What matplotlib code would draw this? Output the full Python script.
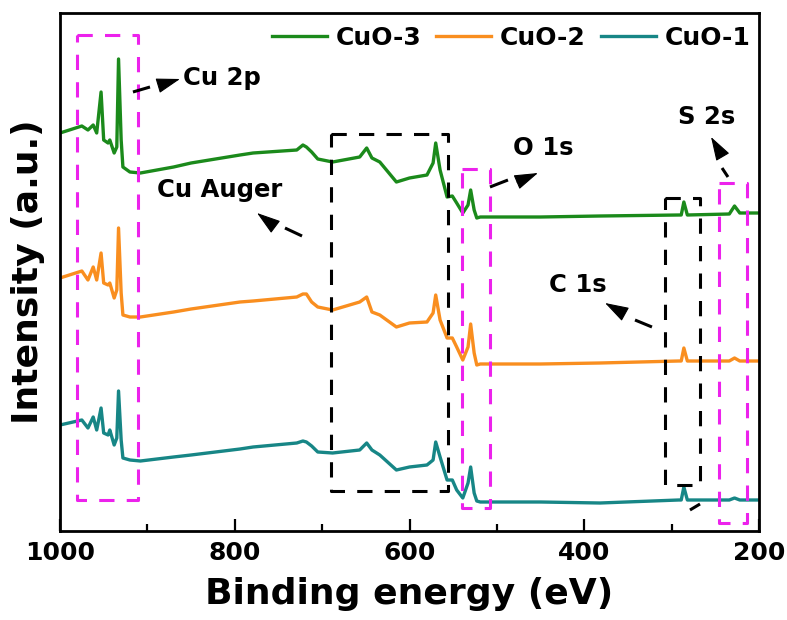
import matplotlib
matplotlib.use("Agg")
import matplotlib.pyplot as plt
import numpy as np

# ---------------- data ----------------
energy = [1000, 975, 968, 962, 958, 953, 950, 945, 943, 938, 935, 933, 930, 928,
          920, 908, 870, 850, 794, 779, 729, 722, 718, 712, 705, 688, 657, 649,
          643, 634, 615, 600, 580, 573, 570, 565, 557, 551, 546, 539, 533, 530,
          526, 523, 519, 450, 382, 292, 289, 286, 282, 234, 228, 222, 200]

cuo3 = [398, 405, 401, 406, 398, 439, 391, 388, 391, 378, 384, 472, 391, 364,
        359, 358, 364, 368, 376, 378, 381, 386, 384, 379, 372, 369, 374, 383,
        373, 369, 349, 353, 356, 368, 388, 361, 334, 335, 328, 318, 326, 341,
        321, 313, 314, 314, 315, 316, 316, 329, 316, 317, 325, 318, 318]

cuo2 = [253, 260, 251, 264, 251, 278, 248, 246, 248, 233, 241, 303, 238, 216,
        214, 214, 219, 222, 229, 230, 234, 237, 237, 229, 224, 221, 229, 234,
        219, 216, 204, 208, 209, 218, 236, 211, 193, 193, 184, 171, 184, 207,
        178, 166, 167, 167, 168, 170, 170, 183, 170, 170, 173, 170, 170]

cuo1 = [106, 111, 103, 114, 101, 123, 98, 96, 101, 86, 93, 140, 91, 73,
        71, 70, 74, 76, 82, 84, 88, 90, 89, 85, 79, 78, 81, 88,
        81, 76, 61, 64, 66, 71, 89, 74, 51, 51, 41, 33, 48, 64,
        38, 30, 29, 29, 28, 31, 31, 44, 31, 31, 33, 31, 31]

series_names = ["CuO-3", "CuO-2", "CuO-1"]
series_colors = ["#1b8a1b", "#f98e1f", "#178686"]

xticks_major = [1000, 800, 600, 400, 200]
xticks_minor = [900, 700, 500, 300]

# ---------------- figure ----------------
fig = plt.figure(figsize=(7.87, 6.20), dpi=100)
ax = fig.add_axes([60 / 787, 89 / 620, 699 / 787, 518 / 620])

bold = dict(family="DejaVu Sans", weight="bold")

for vals, name, col in zip([cuo3, cuo2, cuo1], series_names, series_colors):
    ax.plot(energy, vals, color=col, lw=2.4, label=name, solid_joinstyle="round")

ax.set_xlim(1000, 200)
ax.set_ylim(0, 518)
ax.set_xticks(xticks_major)
ax.set_xticks(xticks_minor, minor=True)
ax.set_xticklabels([str(t) for t in xticks_major], fontsize=18, **bold)
ax.set_yticks([])
ax.tick_params(axis="x", which="major", direction="in", length=8.5, width=1.6,
               pad=7, top=False)
ax.tick_params(axis="x", which="minor", direction="in", length=5, width=1.6,
               top=False)
for s in ax.spines.values():
    s.set_linewidth(2.0)

ax.set_xlabel("Binding energy (eV)", fontsize=26, labelpad=9, **bold)
ax.set_ylabel("Intensity (a.u.)", fontsize=26, labelpad=11, **bold)

leg = ax.legend(loc="center right", bbox_to_anchor=(0.988, 0.952), ncol=3,
                frameon=False, borderpad=0, borderaxespad=0,
                handlelength=2.2, handletextpad=0.35, columnspacing=0.6,
                prop=dict(family="DejaVu Sans", weight="bold", size=18))

# ---------------- dashed boxes ----------------
magenta = "#ec22ec"
dash = (0, (5, 4))

def box(x0, x1, y0, y1, color):
    ax.plot([x0, x1, x1, x0, x0], [y1, y1, y0, y0, y1], color=color, lw=2.2,
            linestyle=dash, dash_capstyle="butt")

box(980.5, 910.7, 31, 496, magenta)   # Cu 2p
box(689.8, 555.9, 40, 397, "black")   # Cu Auger
box(539.9, 507.9, 23, 362, magenta)   # O 1s
box(307.6, 267.5, 46, 333, "black")   # C 1s
box(245.8, 213.7, 8, 348, magenta)    # S 2s

# ---------------- labels and arrows ----------------
fs = 17.5
ax.text(859, 453, "Cu 2p", fontsize=fs, ha="left", va="center", **bold)
ax.text(817, 341, "Cu Auger", fontsize=fs, ha="center", va="center", **bold)
ax.text(447, 383, "O 1s", fontsize=fs, ha="center", va="center", **bold)
ax.text(407, 246, "C 1s", fontsize=fs, ha="center", va="center", **bold)
ax.text(259.5, 414, "S 2s", fontsize=fs, ha="center", va="center", **bold)

def seg(p0, p1):
    ax.plot([p0[0], p1[0]], [p0[1], p1[1]], color="black", lw=2.2,
            solid_capstyle="butt")

def head(base, tip):
    ax.annotate("", xy=tip, xytext=base,
                arrowprops=dict(arrowstyle="-|>,head_length=1.0,head_width=0.32",
                                color="black", lw=0.8, shrinkA=0, shrinkB=0,
                                mutation_scale=15))

# Cu 2p
seg((916.5, 439), (897, 444))
head((885.5, 446), (862.7, 452))
# Cu Auger
seg((742.5, 303), (723, 295))
head((756.2, 306), (774.5, 318))
# O 1s
seg((507.9, 344), (487.3, 351))
head((477, 349), (453, 358))
# C 1s
seg((341.9, 211), (322.5, 204))
head((355.6, 218), (376.2, 228))
# S 2s
seg((242.3, 363), (235.5, 354))
head((243.5, 377), (254.9, 394))
# small dash near C 1s box
seg((279, 21), (267.5, 27))

fig.savefig("out.png", dpi=100)
